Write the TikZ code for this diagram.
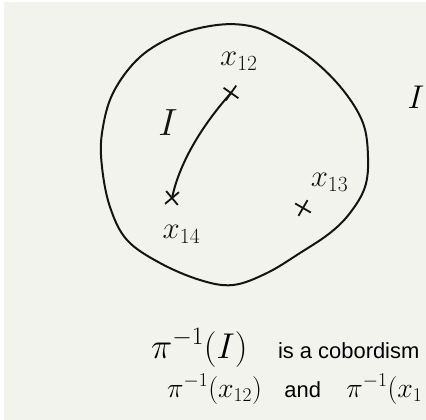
\RequirePackage{fix-cm}
\documentclass[tikz,border=0pt]{standalone}
\usepackage{amsmath}
\usepackage{fontspec}
\setsansfont{Liberation Sans}
\usepackage{tikz}
\usetikzlibrary{positioning,shapes.misc}
\definecolor{slideBg}{HTML}{F3F3EE}
\definecolor{penInk}{HTML}{141414}

\begin{document}
\begin{tikzpicture}[x=1bp,y=-1bp,
    ink/.style={draw=penInk,line width=2bp,line cap=round,line join=round},
    xmark/.style={cross out,draw=penInk,line width=1.8bp,minimum size=11bp,inner sep=0pt},
    hand/.style={inner sep=0pt,text=penInk,font=\fontsize{31}{31}\selectfont},
    slide/.style={inner sep=0pt,text=black}]
  % slide background
  \fill[white] (0,0) rectangle (426,420);
  \fill[slideBg] (4,2) rectangle (426,420);
  \useasboundingbox (0,0) rectangle (426,420);

  % the disc
  \draw[ink] plot[smooth cycle,tension=0.6] coordinates {
    (250,26) (277,37) (313,60) (343,90) (363,123) (368,157) (365,187)
    (350,213) (330,233) (300,253) (267,273) (233,285) (200,280) (160,263)
    (127,240) (110,207) (102,167) (102,133) (113,93) (140,57) (177,35) (217,25)};

  % points and the interval
  \node[xmark,rotate=10] (p12) at (231,93) {};
  \node[xmark,rotate=-5] (p14) at (172,198) {};
  \node[xmark,rotate=15] (p13) at (303,208) {};
  \draw[ink] (p12.center) .. controls (205,122) and (180,160) .. (p14.center);

  \node[hand,above=16bp of p12,xshift=9bp] (l12) {$x_{12}$};
  \node[hand,below=30bp of p14,xshift=10bp,anchor=center] (l14) {$x_{14}$};
  \node[hand,above right=18bp and 22bp of p13,anchor=center] (l13) {$x_{13}$};
  \node[hand,font=\fontsize{38}{38}\selectfont] (lI) at (168,123) {$I$};

  \node[slide,font=\fontsize{33}{33}\selectfont] (bigI) at (416,97) {$I$};

  % caption lines
  \node[slide,anchor=base west,font=\fontsize{36}{36}\selectfont] (preI) at (151,358) {$\pi^{-1}(I)$};
  \node[slide,base right=30bp of preI,font=\sffamily\fontsize{22}{22}\selectfont] (cob) {is a cobordism};
  \node[slide,anchor=base west,font=\fontsize{28}{28}\selectfont] (preA) at (167,397) {$\pi^{-1}(x_{12})$};
  \node[slide,base right=22bp of preA,font=\sffamily\fontsize{22}{22}\selectfont] (conj) {and};
  \node[slide,base right=25bp of conj,font=\fontsize{28}{28}\selectfont] (preB) {$\pi^{-1}(x_1$};
\end{tikzpicture}
\end{document}
